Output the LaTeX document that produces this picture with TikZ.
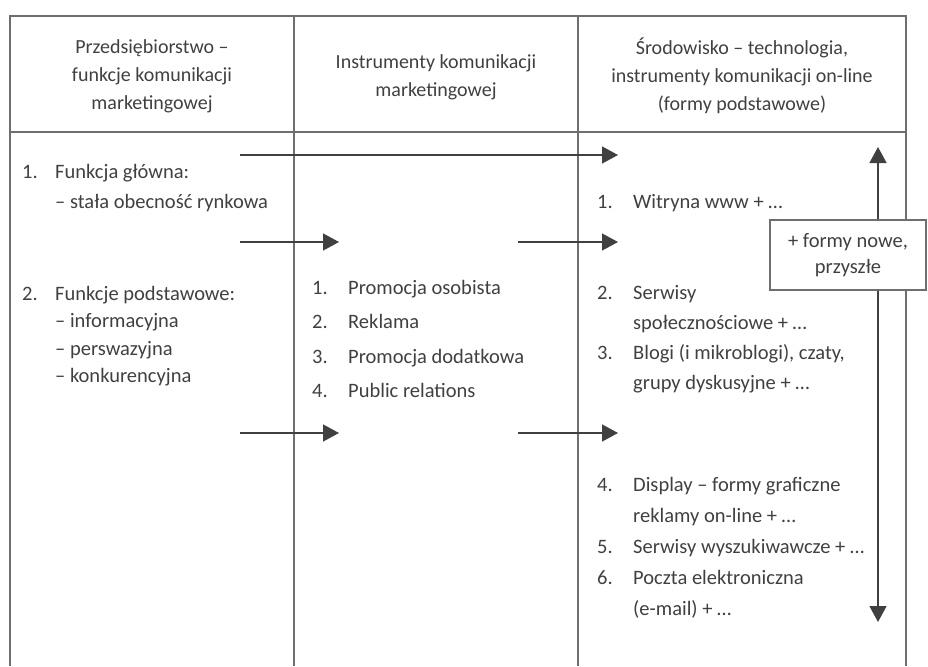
\documentclass[tikz,border=0pt]{standalone}
\usepackage{fontspec}
\setmainfont{Carlito}
\usetikzlibrary{arrows.meta, positioning}
\definecolor{linia}{HTML}{6E6E6E}
\definecolor{tekst}{HTML}{404040}
\definecolor{grot}{HTML}{1E1E1E}
\tikzset{
  naglowek/.style={align=center, text=tekst, font=\fontsize{20}{28}\selectfont},
  lista/.style={anchor=base west, inner sep=0pt, text=tekst, font=\fontsize{20.5}{30}\selectfont},
  ramka/.style={rectangle, draw=linia, line width=1.2pt, fill=white, align=center, text=tekst,
                font=\fontsize{20.5}{26}\selectfont, minimum width=156pt, minimum height=70pt},
  tabela/.style={draw=linia, line width=1.5pt},
  strzalka/.style={draw=grot!85, line width=1.4pt, -{Triangle[length=16pt, width=17pt]}}
}

\begin{document}
\begin{tikzpicture}[x=1pt, y=-1pt]
  \useasboundingbox (0,0) rectangle (928,666);
  % tabela
  \draw [tabela] (10,666) -- (10,16) -- (906,16) -- (906,666);
  \draw [tabela] (10,132) -- (906,132);
  \draw [tabela] (294,16) -- (294,666);
  \draw [tabela] (578,16) -- (578,666);
  % naglowki
  \node (nag1) [naglowek] at (152,76) {Przedsiębiorstwo –\\ funkcje komunikacji\\ marketingowej};
  \node (nag2) [naglowek] at (436,77) {Instrumenty komunikacji\\ marketingowej};
  \node (nag3) [naglowek] at (742,76) {Środowisko – technologia,\\ instrumenty komunikacji on-line\\ (formy podstawowe)};
  % kolumna 1
  \node (funA) [lista] at (22,178) {\begin{tabular}[t]{@{}p{33pt}@{}l@{}}
    1. & Funkcja główna:\\ & – stała obecność rynkowa\end{tabular}};
  \node (funB) [lista, font=\fontsize{20.5}{27.5}\selectfont] at (22,300) {\begin{tabular}[t]{@{}p{33pt}@{}l@{}}
    2. & Funkcje podstawowe:\\ & – informacyjna\\ & – perswazyjna\\ & – konkurencyjna\end{tabular}};
  % kolumna 2
  \node (instr) [lista, font=\fontsize{20.5}{34.5}\selectfont] at (312,294) {\begin{tabular}[t]{@{}p{36pt}@{}l@{}}
    1. & Promocja osobista\\ 2. & Reklama\\ 3. & Promocja dodatkowa\\ 4. & Public relations\end{tabular}};
  % kolumna 3
  \node (onA) [lista] at (597,208) {\begin{tabular}[t]{@{}p{36pt}@{}l@{}}
    1. & Witryna www + …\end{tabular}};
  \node (onB) [lista] at (597,299) {\begin{tabular}[t]{@{}p{36pt}@{}l@{}}
    2. & Serwisy\\ & społecznościowe + …\\ 3. & Blogi (i mikroblogi), czaty,\\ & grupy dyskusyjne + …\end{tabular}};
  \node (onC) [lista, font=\fontsize{20.5}{31}\selectfont] at (597,491) {\begin{tabular}[t]{@{}p{36pt}@{}l@{}}
    4. & Display – formy graficzne\\ & reklamy on-line + …\\ 5. & Serwisy wyszukiwawcze + …\\
    6. & Poczta elektroniczna\\ & (e-mail) + …\end{tabular}};
  % strzalki poziome
  \coordinate (a1) at (240,155);  \coordinate (a2) at (618,155);
  \coordinate (b1) at (240,242);  \coordinate (b2) at (339,242);
  \coordinate (b3) at (518,242);  \coordinate (b4) at (618,242);
  \coordinate (c1) at (240,433);  \coordinate (c2) at (339,433);
  \coordinate (c3) at (518,433);  \coordinate (c4) at (618,433);
  \draw [strzalka] (a1) -- (a2);
  \draw [strzalka] (b1) -- (b2);
  \draw [strzalka] (b3) -- (b4);
  \draw [strzalka] (c1) -- (c2);
  \draw [strzalka] (c3) -- (c4);
  % formy nowe
  \coordinate (gora) at (878,147);
  \coordinate (dol) at (878,622);
  \node (nowe) [ramka] at (848,255) {+ formy nowe,\\ przyszłe};
  \draw [strzalka] (nowe.north -| gora) -- (gora);
  \draw [strzalka] (nowe.south -| dol) -- (dol);
\end{tikzpicture}
\end{document}
